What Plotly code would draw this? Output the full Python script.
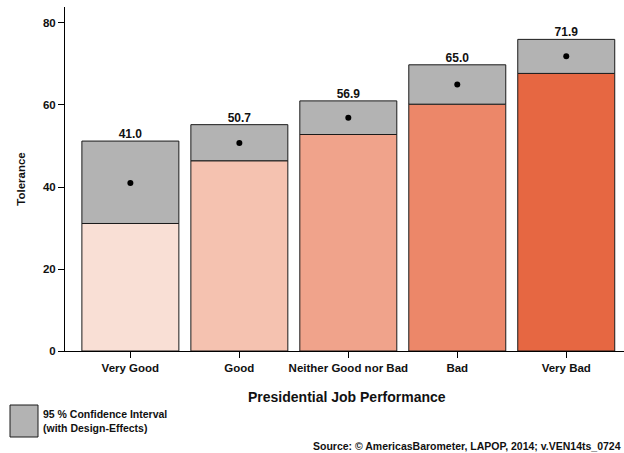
import plotly.graph_objects as go

categories = ["Very Good", "Good", "Neither Good nor Bad", "Bad", "Very Bad"]
means = [41.0, 50.7, 56.9, 65.0, 71.9]
ci_low = [31.1, 46.4, 52.8, 60.2, 67.7]
ci_high = [51.2, 55.2, 61.0, 69.8, 76.0]
bar_colors = ["#F9DFD5", "#F5C2B0", "#F0A38B", "#EC8769", "#E66742"]
labels = [f"<b>{m:.1f}</b>" for m in means]

W, H = 624, 453
L, R, T, B = 65, 0, 7, 102
PW, PH = W - L - R, H - T - B


def px(x):
    return (x - L) / PW


def py(y):
    return (H - B - y) / PH


FONT = "Arial, Liberation Sans, sans-serif"
xs = list(range(len(categories)))

fig = go.Figure()
fig.add_trace(go.Bar(
    x=xs, y=ci_low, marker=dict(color=bar_colors, line=dict(color="#1a1a1a", width=1)),
    width=0.89, hoverinfo="skip", showlegend=False))
fig.add_trace(go.Bar(
    x=xs, y=[h - l for h, l in zip(ci_high, ci_low)], base=ci_low,
    marker=dict(color="#B3B3B3", line=dict(color="#1a1a1a", width=1)),
    width=0.89, hoverinfo="skip", showlegend=False))
fig.add_trace(go.Scatter(
    x=xs, y=means, mode="markers", marker=dict(color="black", size=6),
    hoverinfo="skip", showlegend=False))
fig.add_trace(go.Scatter(
    x=xs, y=ci_high, mode="text", text=labels, textposition="top center",
    textfont=dict(family=FONT, size=12, color="#111"),
    hoverinfo="skip", showlegend=False, cliponaxis=False))

fig.update_layout(
    width=W, height=H, margin=dict(l=L, r=R, t=T, b=B),
    paper_bgcolor="white", plot_bgcolor="white", barmode="overlay",
    font=dict(family=FONT, size=11, color="#111"),
    xaxis=dict(range=[-0.6, 4.53], tickvals=xs, ticktext=categories,
               ticks="outside", ticklen=6, tickcolor="black", showline=True,
               linecolor="black", linewidth=1, showgrid=False, zeroline=False,
               tickfont=dict(family=FONT, size=11.5, color="#111", weight="bold")),
    yaxis=dict(range=[0, 83.9], tickvals=[0, 20, 40, 60, 80], ticks="outside",
               ticklen=6, tickcolor="black", showline=True, linecolor="black",
               linewidth=1, showgrid=False, zeroline=False,
               tickfont=dict(family=FONT, size=11.5, color="#111", weight="bold"),
               title=dict(text="<b>Tolerance</b>", font=dict(family=FONT, size=11.5), standoff=14)),
)

fig.add_annotation(x=px(347), y=py(397), xref="paper", yref="paper",
                   xanchor="center", yanchor="middle",
                   text="<b>Presidential Job Performance</b>", showarrow=False,
                   font=dict(family=FONT, size=14, color="#111"))
fig.add_shape(type="rect", xref="paper", yref="paper",
              x0=px(10), x1=px(38), y0=py(405), y1=py(437),
              fillcolor="#B3B3B3", line=dict(color="#1a1a1a", width=1))
fig.add_annotation(x=px(41), y=py(421), xref="paper", yref="paper",
                   xanchor="left", yanchor="middle", align="left",
                   text="<b>95 % Confidence Interval</b><br><b>(with Design-Effects)</b>",
                   showarrow=False, font=dict(family=FONT, size=10.5, color="#111"))
fig.add_annotation(x=px(623), y=py(446), xref="paper", yref="paper",
                   xanchor="right", yanchor="middle",
                   text="<b>Source: © AmericasBarometer, LAPOP, 2014; v.VEN14ts_0724</b>",
                   showarrow=False, font=dict(family=FONT, size=10.5, color="#111"))

fig.write_html("out.html")
